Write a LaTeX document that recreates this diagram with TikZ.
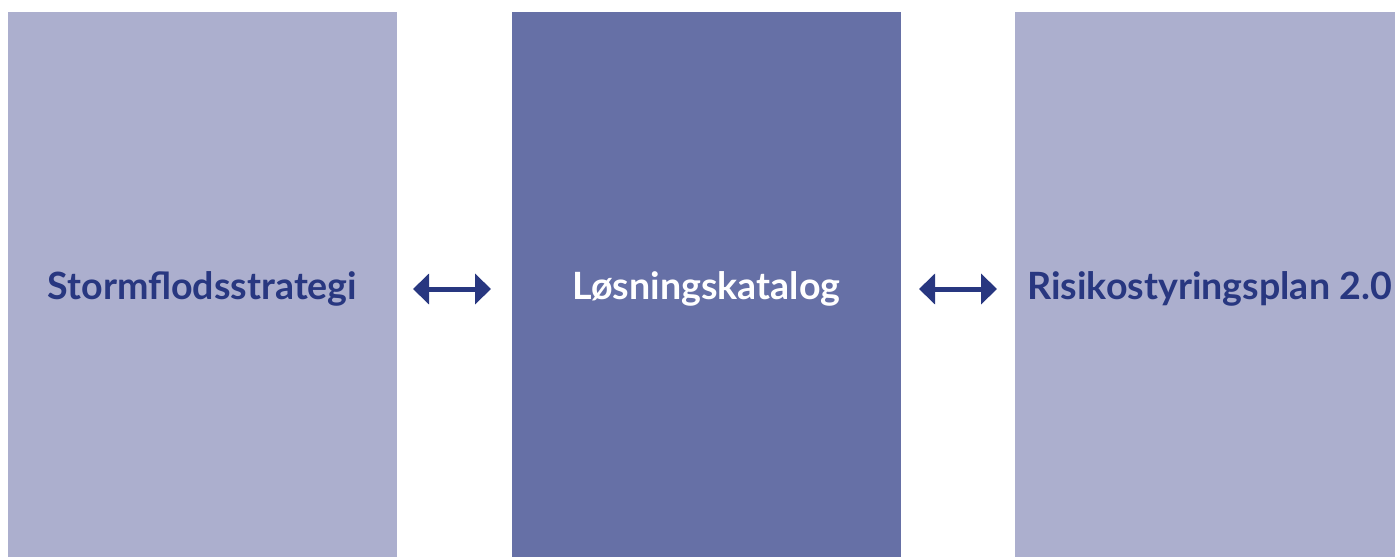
\documentclass[tikz,border=0pt]{standalone}
\usepackage{fontspec}
\setmainfont{Lato}
\usetikzlibrary{arrows.meta}
\definecolor{lightblock}{RGB}{172,175,206}
\definecolor{darkblock}{RGB}{102,112,166}
\definecolor{navy}{RGB}{40,55,128}
\tikzstyle{block} = [rectangle, minimum width=194.5pt, minimum height=277pt, inner sep=0pt, text centered, font=\fontsize{18.8}{22}\selectfont\bfseries]
\tikzstyle{side} = [block, fill=lightblock, text=navy]
\tikzstyle{centre} = [block, fill=darkblock, text=white]
\tikzstyle{arrow} = [line width=2.5pt, navy, {Triangle[width=15pt,length=8pt]}-{Triangle[width=15pt,length=8pt]}]

\begin{document}
\begin{tikzpicture}[x=0.5pt, y=-0.5pt]
\useasboundingbox (0,0) rectangle (1395,556);
\clip (0,0) rectangle (1395,556);
\node (strat) [side] at (202.5,289) {Stormflodsstrategi};
\node (kat) [centre] at (706.5,289) {Løsningskatalog};
\node (plan) [side] at (1209.5,289) {Risikostyringsplan 2.0};
\coordinate (a1) at (413,289);
\coordinate (b1) at (491,289);
\coordinate (a2) at (919,289);
\coordinate (b2) at (997,289);
\draw [arrow] (a1) -- (b1);
\draw [arrow] (a2) -- (b2);
\end{tikzpicture}
\end{document}
